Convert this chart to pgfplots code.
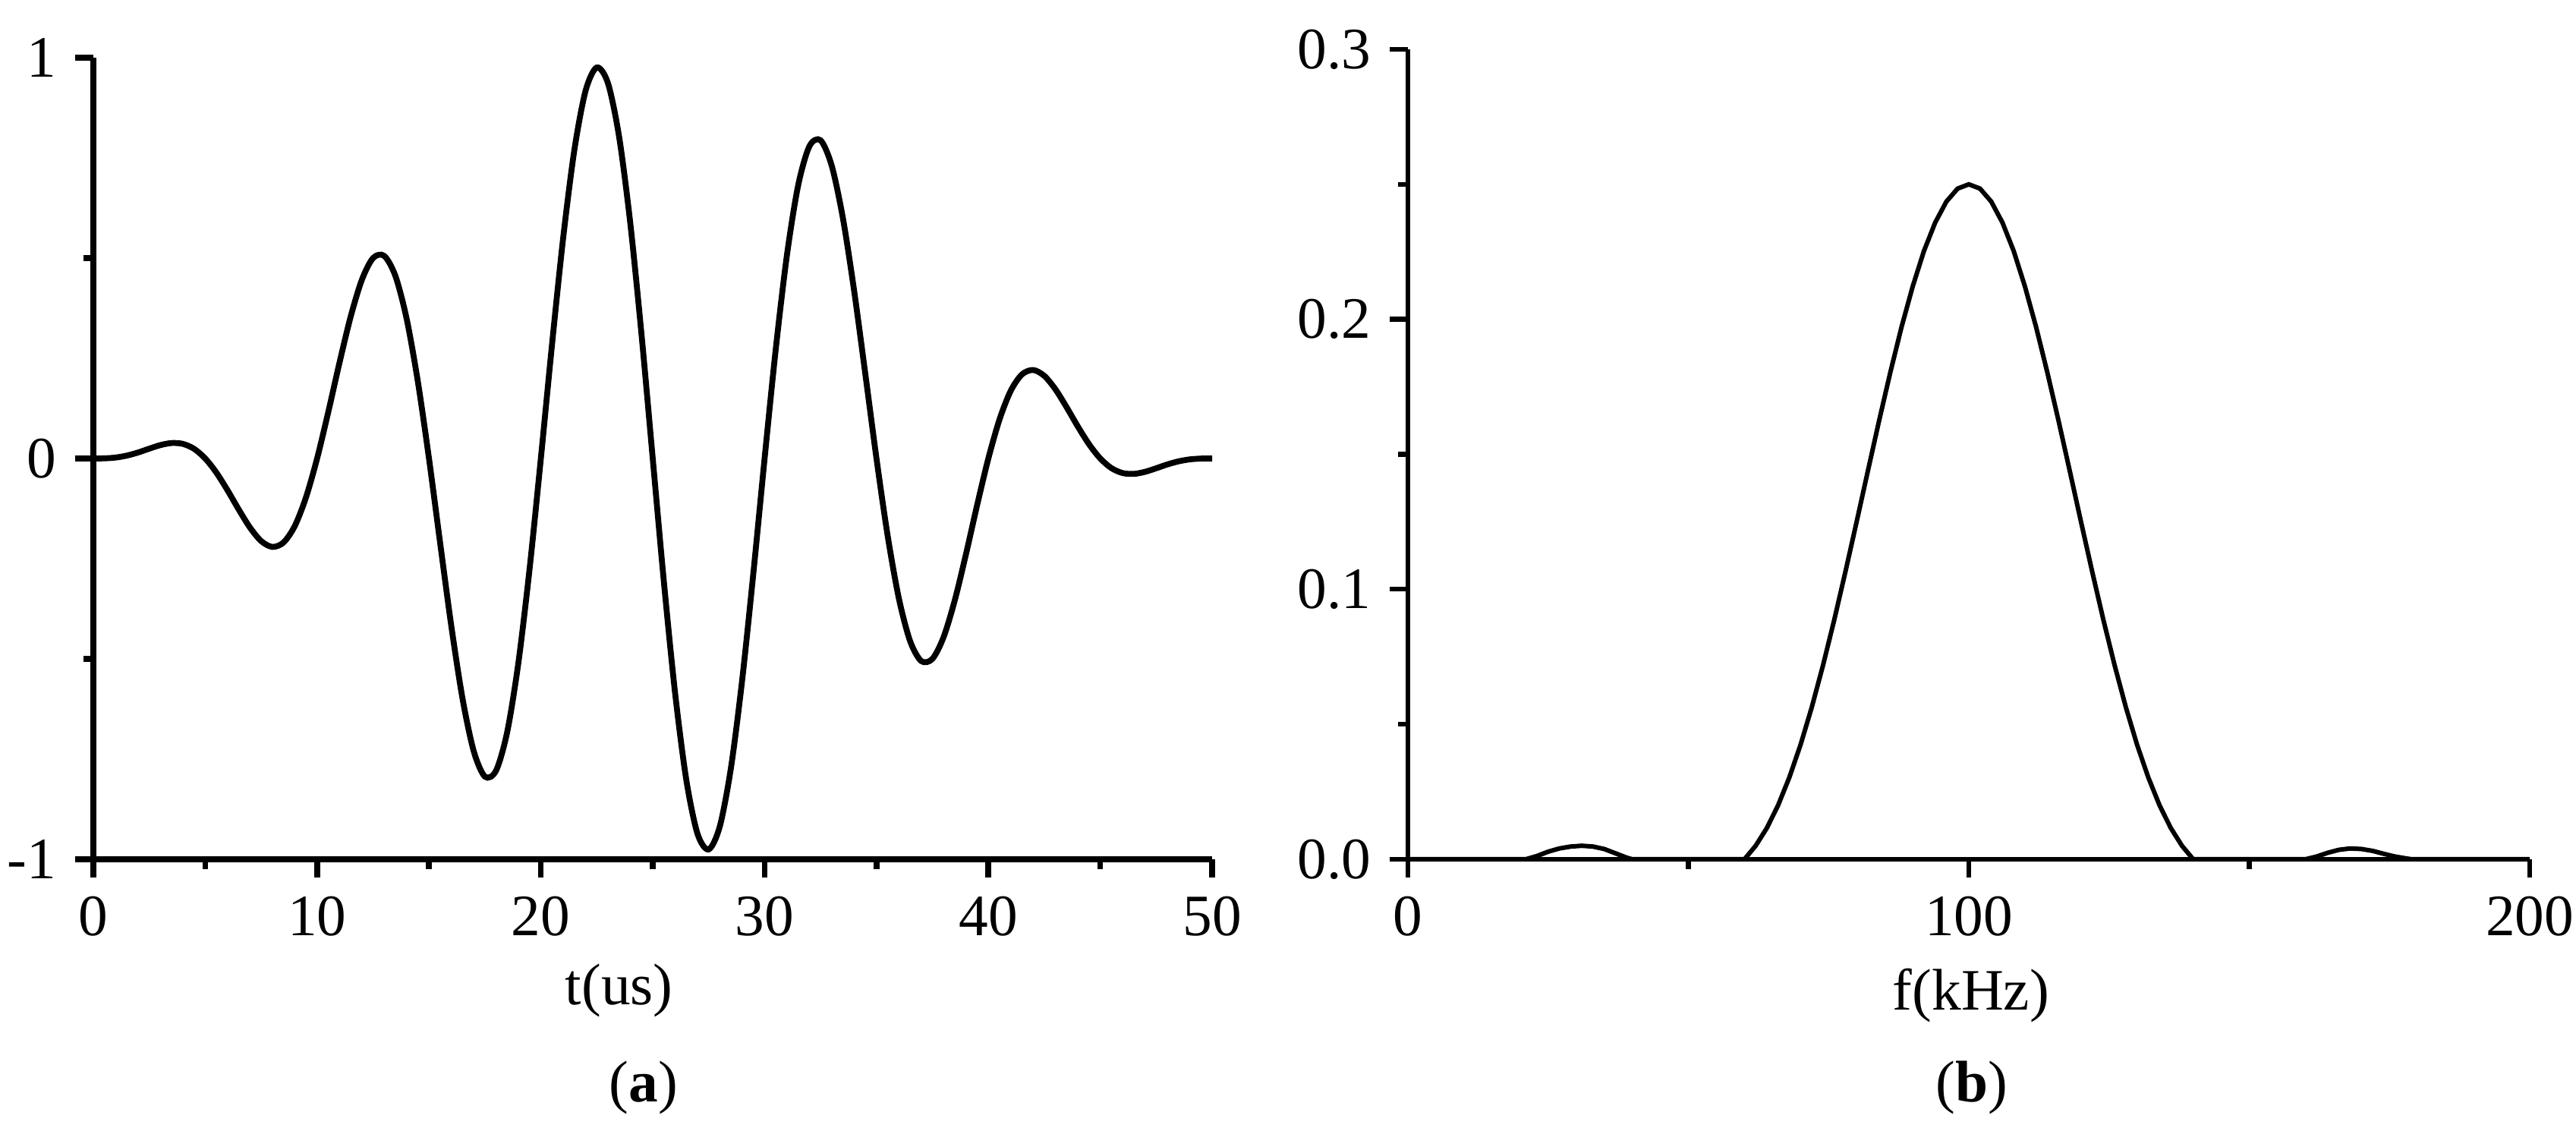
\documentclass[border=0pt]{standalone}
\usepackage{pgfplots}
\pgfplotsset{compat=1.18}
\usepackage{fontspec}
\setmainfont{Liberation Serif}

% windowed tone burst, t in us
\pgfplotstableread{
t y
0 0
0.5 0.0003
1 0.0023
1.5 0.0072
2 0.0149
2.5 0.0245
3 0.0334
3.5 0.0385
4 0.0364
4.5 0.0241
5 0
5.5 -0.0355
6 -0.0797
6.5 -0.1276
7 -0.1724
7.5 -0.2061
8 -0.2207
8.5 -0.2096
9 -0.1688
9.5 -0.0976
10 0
10.5 0.1161
11 0.2388
11.5 0.3538
12 0.4457
12.5 0.5000
13 0.5054
13.5 0.4552
14 0.3490
14.5 0.1929
15 0
15.5 -0.2114
16 -0.4190
16.5 -0.5994
17 -0.7304
17.5 -0.7939
18 -0.7787
18.5 -0.6814
19 -0.5081
19.5 -0.2736
20 0
20.5 0.2850
21 0.5515
21.5 0.7705
22 0.9177
22.5 0.9755
23 0.9362
23.5 0.8018
24 0.5855
24.5 0.3087
25 0
25.5 -0.3087
26 -0.5855
26.5 -0.8018
27 -0.9362
27.5 -0.9755
28 -0.9177
28.5 -0.7705
29 -0.5515
29.5 -0.2850
30 0
30.5 0.2736
31 0.5081
31.5 0.6814
32 0.7787
32.5 0.7939
33 0.7304
33.5 0.5994
34 0.4190
34.5 0.2114
35 0
35.5 -0.1929
36 -0.3490
36.5 -0.4552
37 -0.5054
37.5 -0.5000
38 -0.4457
38.5 -0.3538
39 -0.2388
39.5 -0.1161
40 0
40.5 0.0976
41 0.1688
41.5 0.2096
42 0.2207
42.5 0.2061
43 0.1724
43.5 0.1276
44 0.0797
44.5 0.0355
45 0
45.5 -0.0241
46 -0.0364
46.5 -0.0385
47 -0.0334
47.5 -0.0245
48 -0.0149
48.5 -0.0072
49 -0.0023
49.5 -0.0003
50 0
}\burst

% amplitude spectrum, f in kHz
\pgfplotstableread{
f a
0 0
21 0
23 0.0012
25 0.0028
27 0.0040
29 0.0047
31 0.0050
33 0.0047
35 0.0038
37 0.0022
39 0.0006
40 0
60 0
62 0.0050
64 0.0116
66 0.0200
68 0.0303
70 0.0424
72 0.0563
74 0.0718
76 0.0886
78 0.1065
80 0.1250
82 0.1438
84 0.1624
86 0.1803
88 0.1971
90 0.2122
92 0.2253
94 0.2358
96 0.2436
98 0.2484
100 0.2500
102 0.2484
104 0.2436
106 0.2358
108 0.2253
110 0.2122
112 0.1971
114 0.1803
116 0.1624
118 0.1438
120 0.1250
122 0.1065
124 0.0886
126 0.0718
128 0.0563
130 0.0424
132 0.0303
134 0.0200
136 0.0116
138 0.0050
140 0
160 0
162 0.0010
164 0.0024
166 0.0035
168 0.0040
170 0.0038
172 0.0031
174 0.0020
176 0.0010
178 0.0003
179 0
200 0
}\spectrum

\begin{document}
\begin{tikzpicture}
\useasboundingbox (0,0) rectangle (16.97,7.43);
\pgfplotsset{
  every axis/.append style={
    scale only axis,
    axis x line*=bottom, axis y line*=left,
    tick align=outside,
    major tick length=0.12cm, minor tick length=0.065cm,
    every tick label/.append style={font=\fontsize{11}{13}\selectfont},
    /pgf/number format/assume math mode=true,
    clip=false,
  },
}
\begin{axis}[
    at={(0.615cm,1.77cm)}, anchor=south west,
    width=7.37cm, height=5.28cm,
    xmin=0, xmax=50, ymin=-1, ymax=1,
    xtick={0,10,...,50}, minor xtick={5,15,...,45},
    ytick={-1,0,1}, minor ytick={-0.5,0.5},
    axis line style={line width=1.1pt},
    every tick/.style={line width=1.1pt, black},
]
\addplot[black, line width=1.1pt, smooth] table[x=t, y=y] {\burst};
\node[font=\fontsize{11}{13}\selectfont] at (rel axis cs:0.47,0) [yshift=-0.865cm] {t(us)};
\end{axis}

\begin{axis}[
    at={(9.275cm,1.77cm)}, anchor=south west,
    width=7.39cm, height=5.335cm,
    xmin=0, xmax=200, ymin=0, ymax=0.3,
    xtick={0,100,200}, minor xtick={50,150},
    ytick={0,0.1,0.2,0.3}, minor ytick={0.05,0.15,0.25},
    yticklabel style={/pgf/number format/.cd, fixed, fixed zerofill, precision=1},
    axis line style={line width=0.9pt},
    every tick/.style={line width=0.9pt, black},
]
\addplot[black, line width=0.85pt] table[x=f, y=a] {\spectrum};
\node[font=\fontsize{11}{13}\selectfont] at (rel axis cs:0.502,0) [yshift=-0.9cm] {f(kHz)};
\end{axis}

\node[font=\fontsize{11}{13}\selectfont] at (4.24,0.265) {(\textbf{a})};
\node[font=\fontsize{11}{13}\selectfont] at (12.99,0.265) {(\textbf{b})};
\end{tikzpicture}
\end{document}
